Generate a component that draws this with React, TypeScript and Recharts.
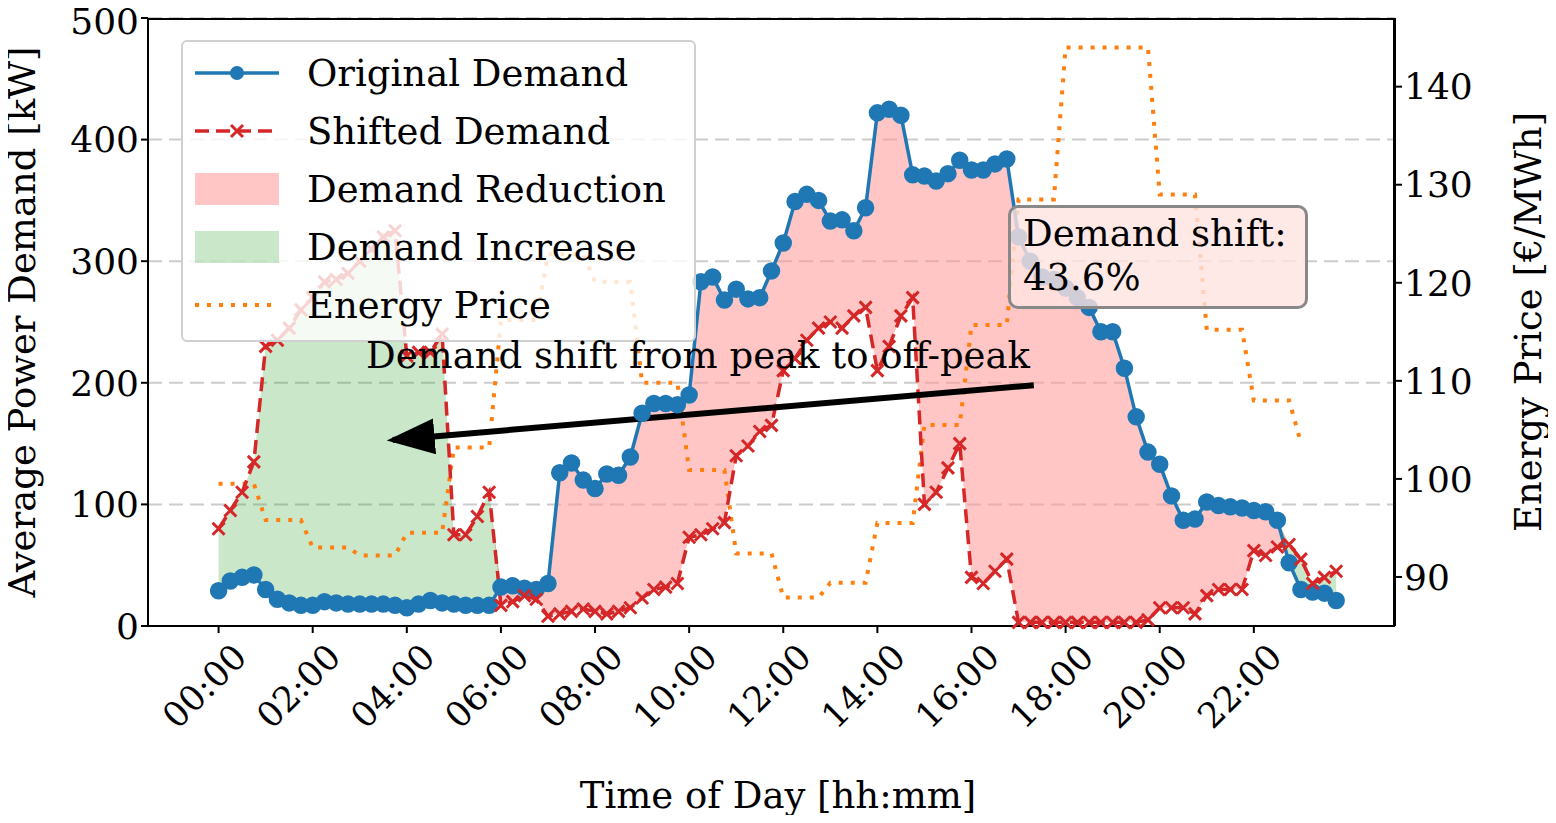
import React from 'react';
import {ComposedChart, Line, Area, XAxis, YAxis, CartesianGrid, ReferenceLine} from 'recharts';

const original = [
  29, 37, 40, 42, 30, 22, 19, 17, 17, 20, 19, 18, 18, 18, 18, 17,
  15, 18, 21, 19, 18, 17, 17, 17, 32, 33, 31, 30, 35, 126, 134, 120,
  113, 125, 124, 139, 175, 183, 183, 182, 190, 283, 287, 268, 277, 269, 270, 292,
  315, 349, 355, 350, 333, 334, 325, 344, 422, 425, 420, 371, 370, 366, 372, 383,
  375, 375, 380, 384, 320, 300, 287, 285, 278, 270, 262, 242, 242, 212, 172, 143,
  133, 107, 87, 88, 102, 99, 98, 97, 95, 94, 87, 52, 30, 28, 27, 21,
];
const shifted = [
  80, 95, 110, 135, 230, 235, 245, 260, 270, 283, 285, 290, 300, 310, 320, 325,
  222, 225, 225, 240, 75, 75, 90, 110, 17, 20, 25, 22, 8, 10, 12, 14,
  12, 10, 12, 15, 23, 30, 32, 35, 73, 75, 80, 85, 140, 148, 160, 165,
  210, 220, 235, 245, 250, 245, 255, 262, 210, 230, 255, 270, 100, 110, 130, 150,
  40, 35, 45, 55, 3, 3, 3, 3, 3, 3, 3, 3, 3, 3, 3, 5,
  15, 15, 15, 10, 25, 30, 30, 30, 62, 58, 65, 67, 55, 35, 40, 45,
];
// hourly energy price, held constant within each hour
const hourlyPrice = [
  99.5, 95.8, 93, 92.2, 94.5, 103.2, 116.2, 122.9, 120.1, 109.8, 100.9, 92.4,
  87.9, 89.4, 95.5, 105.5, 115.7, 128.5, 144, 144, 129, 115.2, 108, 103.7,
];
const hourTicks = [0, 8, 16, 24, 32, 40, 48, 56, 64, 72, 80, 88];
const hourLabels = ['00:00', '02:00', '04:00', '06:00', '08:00', '10:00', '12:00', '14:00', '16:00', '18:00', '20:00', '22:00'];

const data = original.map((o, i) => {
  const s = shifted[i];
  const hi = Math.max(o, s);
  return {
    t: i,
    original: o,
    shifted: s,
    reduction: [s, hi],
    increase: [o, hi],
    price: i <= 92 ? hourlyPrice[Math.floor(i / 4)] : null,
  };
});

const FONT = 'DejaVu Serif';
const RED_FILL = '#ff9896';
const GREEN_FILL = '#2ca02c';

const XDot = (props: any) => {
  const {cx, cy} = props;
  if (cx == null || cy == null) return null;
  const d = 6;
  return (
    <path d={`M${cx - d},${cy - d}L${cx + d},${cy + d}M${cx - d},${cy + d}L${cx + d},${cy - d}`}
          stroke="#d62728" strokeWidth={3}/>
  );
};

const XTick = (props: any) => {
  const {x, y, payload} = props;
  const idx = hourTicks.indexOf(payload.value);
  return (
    <text x={x + 12} y={y + 6} textAnchor="end" fontSize={35} fontFamily={FONT} fill="#000"
          transform={`rotate(-45, ${x + 12}, ${y + 6})`} dominantBaseline="hanging">
      {hourLabels[idx]}
    </text>
  );
};

const legendRow = (sample: React.ReactNode, label: string) => (
  <div style={{display: 'flex', alignItems: 'center', height: 58}}>
    <svg width={90} height={40} style={{marginRight: 22}}>{sample}</svg>
    <span>{label}</span>
  </div>
);

const tickStyle = {fontSize: 36, fill: '#000', fontFamily: FONT};

export default function App() {
  return (
    <div style={{position: 'relative', width: 1556, height: 823, margin: -8, fontFamily: FONT, background: '#fff'}}>
      <ComposedChart width={1556} height={823} data={data} margin={{top: 18, right: 0, left: 0, bottom: 0}}>
        <defs>
          <marker id="arrowHead" markerWidth="8" markerHeight="6" refX="7" refY="3" orient="auto" markerUnits="strokeWidth">
            <path d="M0,0 L8,3 L0,6 z" fill="#000"/>
          </marker>
        </defs>
        <CartesianGrid yAxisId="left" horizontal vertical={false} stroke="#cccccc" strokeDasharray="14 7" strokeWidth={2}/>
        <XAxis dataKey="t" type="number" domain={[-6, 100]} ticks={hourTicks} interval={0} height={197}
               tick={<XTick/>} tickLine={{stroke: '#000', strokeWidth: 2}} tickSize={7}
               axisLine={{stroke: '#000', strokeWidth: 2}}/>
        <YAxis yAxisId="left" domain={[0, 500]} ticks={[0, 100, 200, 300, 400, 500]} width={148}
               tick={tickStyle} tickLine={{stroke: '#000', strokeWidth: 2}} tickSize={7}
               axisLine={{stroke: '#000', strokeWidth: 2}}/>
        <YAxis yAxisId="right" orientation="right" domain={[85, 147]} ticks={[90, 100, 110, 120, 130, 140]} width={161}
               tick={tickStyle} tickLine={{stroke: '#000', strokeWidth: 2}} tickSize={7}
               axisLine={{stroke: '#000', strokeWidth: 2}}/>
        <Area yAxisId="left" dataKey="reduction" type="linear" stroke="none" fill={RED_FILL} fillOpacity={0.55} isAnimationActive={false}/>
        <Area yAxisId="left" dataKey="increase" type="linear" stroke="none" fill={GREEN_FILL} fillOpacity={0.25} isAnimationActive={false}/>
        <Line yAxisId="right" dataKey="price" type="linear" stroke="#ff7f0e" strokeWidth={4} strokeDasharray="4 8"
              dot={false} connectNulls={false} isAnimationActive={false}/>
        <Line yAxisId="left" dataKey="original" type="linear" stroke="#1f77b4" strokeWidth={3.5}
              dot={{r: 7, fill: '#1f77b4', stroke: '#1f77b4'}} isAnimationActive={false}/>
        <Line yAxisId="left" dataKey="shifted" type="linear" stroke="#d62728" strokeWidth={3.5} strokeDasharray="14 7"
              dot={<XDot/>} isAnimationActive={false}/>
        <ReferenceLine yAxisId="left" segment={[{x: 69.3, y: 198}, {x: 14.8, y: 153}]} stroke="#000" strokeWidth={6}
                       markerEnd="url(#arrowHead)" ifOverflow="visible"/>
      </ComposedChart>

      {/* top and right spines of the plot frame */}
      <div style={{position: 'absolute', left: 148, top: 18, width: 1247, height: 608, borderTop: '2px solid #000', borderRight: '2px solid #000', boxSizing: 'border-box', pointerEvents: 'none'}}/>

      {/* axis titles */}
      <div style={{position: 'absolute', left: 22, top: 322, transform: 'translate(-50%, -50%) rotate(-90deg)', fontSize: 37, whiteSpace: 'nowrap'}}>
        Average Power Demand [kW]
      </div>
      <div style={{position: 'absolute', left: 1528, top: 322, transform: 'translate(-50%, -50%) rotate(-90deg)', fontSize: 37, whiteSpace: 'nowrap'}}>
        Energy Price [€/MWh]
      </div>
      <div style={{position: 'absolute', left: 778, top: 795, transform: 'translate(-50%, -50%)', fontSize: 37, whiteSpace: 'nowrap'}}>
        Time of Day [hh:mm]
      </div>

      <div style={{position: 'absolute', left: 181, top: 40, width: 515, height: 302, boxSizing: 'border-box',
        border: '2px solid #d0d0d0', borderRadius: 6, background: 'rgba(255,255,255,0.8)', padding: '2px 0 0 12px', fontSize: 37}}>
        {legendRow(<g><line x1={0} y1={20} x2={84} y2={20} stroke="#1f77b4" strokeWidth={3.5}/><circle cx={42} cy={20} r={7} fill="#1f77b4"/></g>, 'Original Demand')}
        {legendRow(<g><line x1={0} y1={20} x2={84} y2={20} stroke="#d62728" strokeWidth={3.5} strokeDasharray="14 7"/><XDot cx={42} cy={20}/></g>, 'Shifted Demand')}
        {legendRow(<rect x={0} y={4} width={84} height={32} fill={RED_FILL} fillOpacity={0.55}/>, 'Demand Reduction')}
        {legendRow(<rect x={0} y={4} width={84} height={32} fill={GREEN_FILL} fillOpacity={0.25}/>, 'Demand Increase')}
        {legendRow(<line x1={0} y1={20} x2={84} y2={20} stroke="#ff7f0e" strokeWidth={4} strokeDasharray="4 8"/>, 'Energy Price')}
      </div>

      <div style={{position: 'absolute', left: 366, top: 334, fontSize: 37, whiteSpace: 'nowrap'}}>
        Demand shift from peak to off-peak
      </div>

      <div style={{position: 'absolute', left: 1008, top: 205, width: 300, height: 104, boxSizing: 'border-box',
        border: '3px solid #888', borderRadius: 10, background: 'rgba(255,228,225,0.8)', padding: '4px 12px', fontSize: 37, lineHeight: '44px'}}>
        Demand shift:<br/>43.6%
      </div>
    </div>
  );
}
